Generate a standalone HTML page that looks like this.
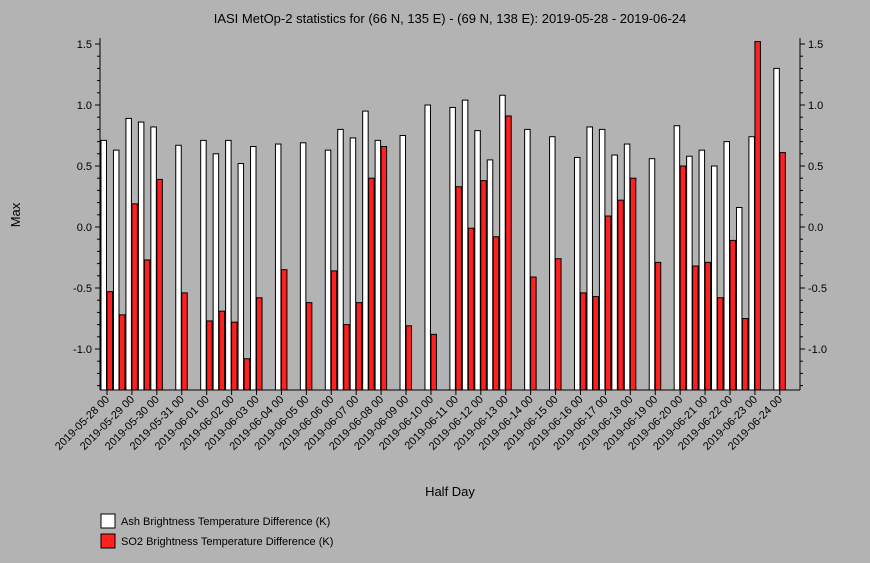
<!DOCTYPE html>
<html><head><meta charset="utf-8"><style>
body{margin:0;background:#b3b3b3;}
svg{display:block;font-family:"Liberation Sans",sans-serif;}
</style></head><body>
<svg width="870" height="563" viewBox="0 0 870 563">
<rect width="870" height="563" fill="#b3b3b3"/>
<text x="450" y="23" text-anchor="middle" font-size="13">IASI MetOp-2 statistics for (66 N, 135 E) - (69 N, 138 E): 2019-05-28 - 2019-06-24</text>
<text transform="translate(20,215) rotate(-90)" text-anchor="middle" font-size="13">Max</text>
<text x="450" y="496" text-anchor="middle" font-size="13">Half Day</text>
<g id="plot"></g>
<g>
<rect x="101" y="514" width="14" height="14" fill="#fff" stroke="#000"/>
<text x="121" y="525" font-size="11">Ash Brightness Temperature Difference (K)</text>
<rect x="101" y="534" width="14" height="14" fill="#ff2020" stroke="#000"/>
<text x="121" y="545" font-size="11">SO2 Brightness Temperature Difference (K)</text>
</g>
</svg>
<script>
const dayLabels=["2019-05-28 00","2019-05-29 00","2019-05-30 00","2019-05-31 00","2019-06-01 00","2019-06-02 00","2019-06-03 00","2019-06-04 00","2019-06-05 00","2019-06-06 00","2019-06-07 00","2019-06-08 00","2019-06-09 00","2019-06-10 00","2019-06-11 00","2019-06-12 00","2019-06-13 00","2019-06-14 00","2019-06-15 00","2019-06-16 00","2019-06-17 00","2019-06-18 00","2019-06-19 00","2019-06-20 00","2019-06-21 00","2019-06-22 00","2019-06-23 00","2019-06-24 00"];
const ashValues=[0.71,0.63,0.89,0.86,0.82,null,0.67,null,0.71,0.60,0.71,0.52,0.66,null,0.68,null,0.69,null,0.63,0.80,0.73,0.95,0.71,null,0.75,null,1.00,null,0.98,1.04,0.79,0.55,1.08,null,0.80,null,0.74,null,0.57,0.82,0.80,0.59,0.68,null,0.56,null,0.83,0.58,0.63,0.50,0.70,0.16,0.74,null,1.30];
const so2Values=[-0.53,-0.72,0.19,-0.27,0.39,null,-0.54,null,-0.77,-0.69,-0.78,-1.08,-0.58,null,-0.35,null,-0.62,null,-0.36,-0.80,-0.62,0.40,0.66,null,-0.81,null,-0.88,null,0.33,-0.01,0.38,-0.08,0.91,null,-0.41,null,-0.26,null,-0.54,-0.57,0.09,0.22,0.40,null,-0.29,null,0.50,-0.32,-0.29,-0.58,-0.11,-0.75,1.52,null,0.61];
const yTicks=[-1.0,-0.5,0.0,0.5,1.0,1.5];
const NS="http://www.w3.org/2000/svg";
const g=document.getElementById('plot');
const L=100,R=800,B=390,T=38,yMin=-1.336;
function y(v){return 227-v*122;}
function xDay(d){return 107+d*24.92;}
function xSlot(i){return 107+i*12.46;}
function mk(t,a){const e=document.createElementNS(NS,t);for(const k in a)e.setAttribute(k,a[k]);g.appendChild(e);return e;}
function bar(x,v,fill,name){if(v==null)return;
 const top=y(v),h=B-top;
 const r=mk('rect',{x:x,y:top,width:5.5,height:h,fill:fill,stroke:'#000','stroke-width':1});
 
 }
ashValues.forEach((v,i)=>bar(xSlot(i)-6,v,'#fff','ash-bar'));
so2Values.forEach((v,i)=>bar(xSlot(i),v,'#ff2020','so2-bar'));
let a=mk('line',{x1:L,y1:T,x2:L,y2:B,stroke:'#000'});

a=mk('line',{x1:R,y1:T,x2:R,y2:B,stroke:'#000'});

a=mk('line',{x1:L,y1:B,x2:R,y2:B,stroke:'#000'});

for(let k=-13;k<=15;k++){const v=k/10,yy=y(v);if(yy<T-1)continue;
 const major=k%5===0,len=major?5:3;
 mk('line',{x1:L-len,y1:yy,x2:L,y2:yy,stroke:'#000'});
 mk('line',{x1:R,y1:yy,x2:R+len,y2:yy,stroke:'#000'});}
yTicks.forEach(v=>{
 let t=mk('text',{x:L-8,y:y(v)+4,'text-anchor':'end','font-size':11});t.textContent=v.toFixed(1);
 
 t=mk('text',{x:R+8,y:y(v)+4,'font-size':11});t.textContent=v.toFixed(1);
 });
dayLabels.forEach((s,d)=>{const xx=xDay(d);
 mk('line',{x1:xx,y1:B,x2:xx,y2:B+5,stroke:'#000'});
 const t=mk('text',{transform:`translate(${xx+3},${B+10}) rotate(-45)`,'text-anchor':'end','font-size':11});
 t.textContent=s;
 
 });
</script>
</body></html>
